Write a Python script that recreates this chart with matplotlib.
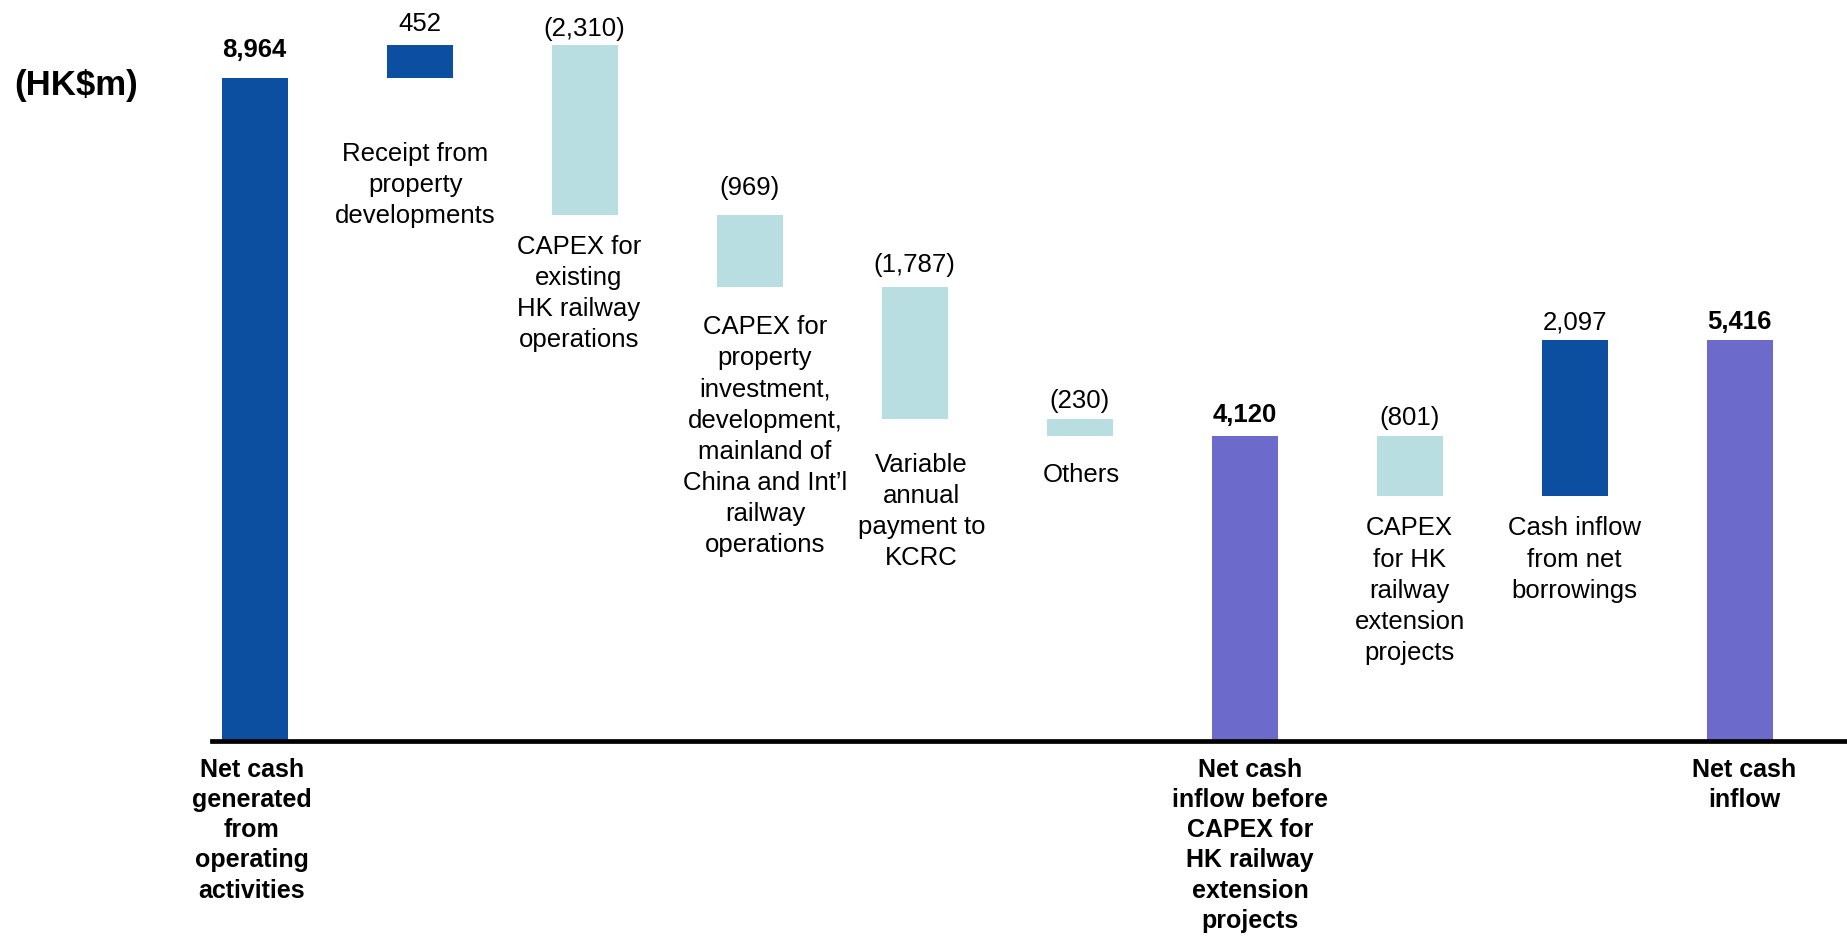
import numpy as np
import matplotlib
matplotlib.use('Agg')
import matplotlib.pyplot as plt

plt.rcParams['font.family'] = ['Liberation Sans', 'DejaVu Sans']

# waterfall data (HK$m)
labels = [
    'Net cash\ngenerated\nfrom\noperating\nactivities',
    'Receipt from\nproperty\ndevelopments',
    'CAPEX for\nexisting\nHK railway\noperations',
    'CAPEX for\nproperty\ninvestment,\ndevelopment,\nmainland of\nChina and Int\u2019l\nrailway\noperations',
    'Variable\nannual\npayment to\nKCRC',
    'Others',
    'Net cash\ninflow before\nCAPEX for\nHK railway\nextension\nprojects',
    'CAPEX\nfor HK\nrailway\nextension\nprojects',
    'Cash inflow\nfrom net\nborrowings',
    'Net cash\ninflow',
]
values = [8964, 452, -2310, -969, -1787, -230, 4120, -801, 2097, 5416]
is_total = [True, False, False, False, False, False, True, False, False, True]

DARK = '#0C4FA0'
LIGHT = '#B9DEE2'
PURPLE = '#6C6ACB'

# gap (points) between bar bottom and its category label, for step bars
label_gap = [0, 46, 14, 20, 24, 19, 0, 15, 15, 0]
# small horizontal nudges of category labels (points)
label_dx = [-2, -3, -4, 11, 5, 1, 4, 0, 0, 3]
# extra lift of value labels (points)
value_dy = [7, 2, -2, 7, 3, 0, 2, 0, 0, 0]


def fmt(v):
    s = f'{abs(v):,}'
    return f'({s})' if v < 0 else s


fig = plt.figure(figsize=(18.47, 9.42), dpi=100)
ax = fig.add_axes([212 / 1847, 201 / 942, 1 - 212 / 1847, 741 / 942])

x = np.arange(len(values))
bottoms, heights, colors = [], [], []
running = 0
for v, tot in zip(values, is_total):
    if tot:
        bottoms.append(0)
        heights.append(v)
        colors.append(PURPLE if v != values[0] else DARK)
        running = v
    else:
        start = running
        running = running + v
        bottoms.append(min(start, running))
        heights.append(abs(v))
        colors.append(DARK if v > 0 else LIGHT)

ax.bar(x, heights, bottom=bottoms, width=0.4, color=colors, zorder=2)

for i in range(len(values)):
    top = bottoms[i] + heights[i]
    ax.annotate(fmt(values[i]), (x[i], top), xytext=(0, 8 + value_dy[i]), textcoords='offset points',
                ha='center', va='baseline', fontsize=18.5,
                fontweight='bold' if is_total[i] else 'normal', annotation_clip=False)
    if is_total[i]:
        ax.annotate(labels[i], (x[i], 0), xytext=(label_dx[i], -12), textcoords='offset points',
                    ha='center', va='top', fontsize=18, fontweight='bold',
                    linespacing=1.33, annotation_clip=False)
    else:
        ax.annotate(labels[i], (x[i], bottoms[i]), xytext=(label_dx[i], -label_gap[i]),
                    textcoords='offset points', ha='center', va='top', fontsize=18.5,
                    linespacing=1.38, annotation_clip=False)

fig.text(14 / 1847, 1 - 85 / 942, '(HK$m)', fontsize=25, fontweight='bold', va='center', ha='left')

ax.set_xlim(-0.258, 9.65)
ax.set_ylim(0, 10018)
for s in ['top', 'right', 'left']:
    ax.spines[s].set_visible(False)
ax.spines['bottom'].set_linewidth(3.4)
ax.spines['bottom'].set_zorder(3)
ax.set_xticks([])
ax.set_yticks([])

fig.savefig('out.png', dpi=100)
